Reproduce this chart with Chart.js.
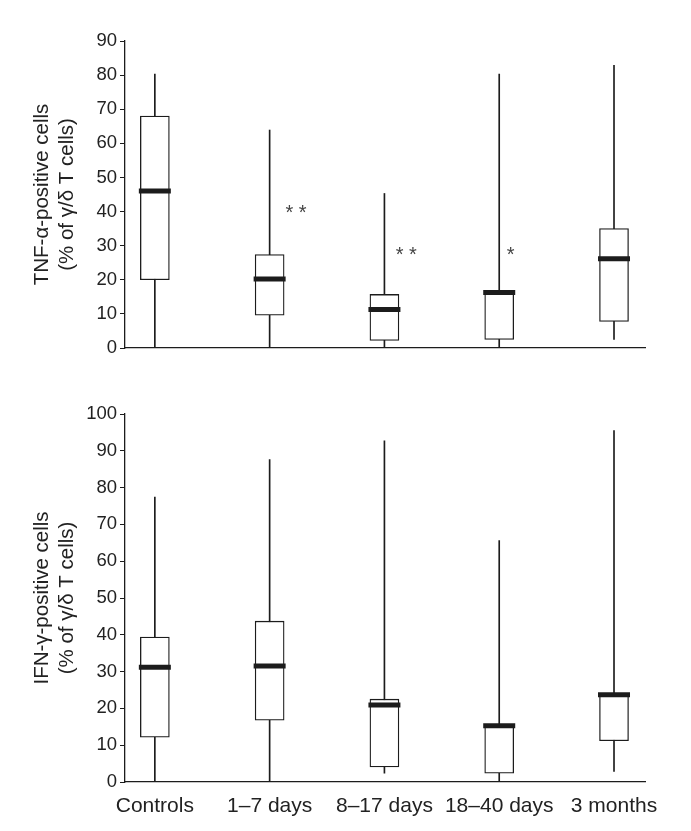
<!DOCTYPE html>
<html>
<head>
<meta charset="utf-8">
<script src="https://cdn.jsdelivr.net/npm/chart.js"></script>
<style>
  body { margin: 0; background: #fff; }
  #wrap { position: relative; width: 691px; height: 831px; }
  .pane { position: absolute; left: 0; }
</style>
</head>
<body>
<div id="wrap">
  <div class="pane" style="top:0;width:691px;height:380px"><canvas id="tnf"></canvas></div>
  <div class="pane" style="top:380px;width:691px;height:451px"><canvas id="ifn"></canvas></div>
</div>
<script>
const categories = ['Controls', '1\u20137 days', '8\u201317 days', '18\u201340 days', '3 months'];

// TNF-alpha panel
const tnfMin    = [0, 0, 0, 0, 2.5];
const tnfQ1     = [20, 9.6, 2.2, 2.5, 7.8];
const tnfMedian = [46, 20.2, 11.3, 16.3, 26.2];
const tnfQ3     = [68, 27.4, 15.7, 16.5, 35];
const tnfMax    = [80.3, 63.9, 45.3, 80.3, 82.9];
const tnfTicks  = [0, 10, 20, 30, 40, 50, 60, 70, 80, 90];

// significance marks (category position, value)
const sigText = ['* *', '* *', '*'];
const sigX    = [1.23, 2.19, 3.1];
const sigY    = [41, 28.5, 28.5];

// IFN-gamma panel
const ifnMin    = [0, 0, 2.4, 0, 2.9];
const ifnQ1     = [12.2, 16.8, 4.1, 2.4, 11.2];
const ifnMedian = [31.2, 31.5, 20.9, 15.3, 23.7];
const ifnQ3     = [39.4, 43.7, 22.5, 15.5, 23.9];
const ifnMax    = [77.4, 87.6, 92.7, 65.6, 95.5];
const ifnTicks  = [0, 10, 20, 30, 40, 50, 60, 70, 80, 90, 100];

const INK = '#1c1c1c';
const FONT = "'Liberation Sans', Arial, sans-serif";

function boxDatasets(mins, q1, med, q3, maxs) {
  return [
    {
      type: 'line',
      label: 'median',
      data: med.map((v, i) => ({x: i, y: v})),
      showLine: false,
      pointStyle: 'line',
      pointRadius: 16,
      pointHoverRadius: 16,
      pointBorderWidth: 5,
      pointBorderColor: INK,
      pointBackgroundColor: INK
    },
    {
      label: 'box',
      data: q1.map((v, i) => ({x: i, y: [v, q3[i]]})),
      backgroundColor: '#fff',
      borderColor: INK,
      borderWidth: 1.3,
      borderSkipped: false,
      barThickness: 29,
      grouped: false
    },
    {
      label: 'whisker',
      data: mins.map((v, i) => ({x: i, y: [v, maxs[i]]})),
      backgroundColor: INK,
      borderWidth: 0,
      barThickness: 1,
      grouped: false
    }
  ];
}

const sigPlugin = {
  id: 'sigMarks',
  afterDatasetsDraw(chart) {
    if (chart.canvas.id !== 'tnf') return;
    const {ctx, scales: {x, y}} = chart;
    ctx.save();
    ctx.fillStyle = '#444';
    ctx.font = '20px ' + FONT;
    ctx.textAlign = 'center';
    ctx.textBaseline = 'middle';
    sigText.forEach((t, i) => {
      ctx.fillText(t, x.getPixelForValue(sigX[i]), y.getPixelForValue(sigY[i]) + 5);
    });
    ctx.restore();
  }
};

function makeChart(id, datasets, ticks, yMax, title, showLabels, padTop, xHeight) {
  return new Chart(document.getElementById(id), {
    type: 'bar',
    data: {datasets: datasets},
    plugins: [sigPlugin],
    options: {
      responsive: true,
      maintainAspectRatio: false,
      animation: false,
      layout: {padding: {top: padTop, right: 46, bottom: 0, left: 0}},
      plugins: {legend: {display: false}, tooltip: {enabled: false}},
      scales: {
        x: {
          type: 'linear',
          offset: false,
          min: -0.26,
          max: 4.27,
          afterFit(scale) { scale.height = xHeight; },
          afterBuildTicks(scale) { scale.ticks = categories.map((c, i) => ({value: i})); },
          grid: {display: false, drawTicks: false},
          border: {display: true, color: INK, width: 1.3},
          ticks: {
            display: showLabels,
            padding: 12,
            color: '#222',
            font: {family: FONT, size: 21},
            maxRotation: 0,
            autoSkip: false,
            callback: (v) => categories[v]
          }
        },
        y: {
          min: 0,
          max: yMax,
          afterFit(scale) { scale.width = 125; },
          afterBuildTicks(scale) { scale.ticks = ticks.map(v => ({value: v})); },
          grid: {drawOnChartArea: false, tickLength: 5, color: INK, lineWidth: 1},
          border: {display: true, color: INK, width: 1.3},
          ticks: {
            padding: 3,
            color: '#222',
            font: {family: FONT, size: 18.5}
          },
          title: {
            display: true,
            text: title,
            color: '#222',
            font: {family: FONT, size: 20.5, lineHeight: 1.22},
            padding: {top: 30, bottom: 0}
          }
        }
      }
    }
  });
}

makeChart('tnf', boxDatasets(tnfMin, tnfQ1, tnfMedian, tnfQ3, tnfMax), tnfTicks, 90,
  ['TNF-\u03b1-positive cells', '(% of \u03b3/\u03b4 T cells)'], false, 41, 32);
makeChart('ifn', boxDatasets(ifnMin, ifnQ1, ifnMedian, ifnQ3, ifnMax), ifnTicks, 100,
  ['IFN-\u03b3-positive cells', '(% of \u03b3/\u03b4 T cells)'], true, 34, 49);
</script>
</body>
</html>
